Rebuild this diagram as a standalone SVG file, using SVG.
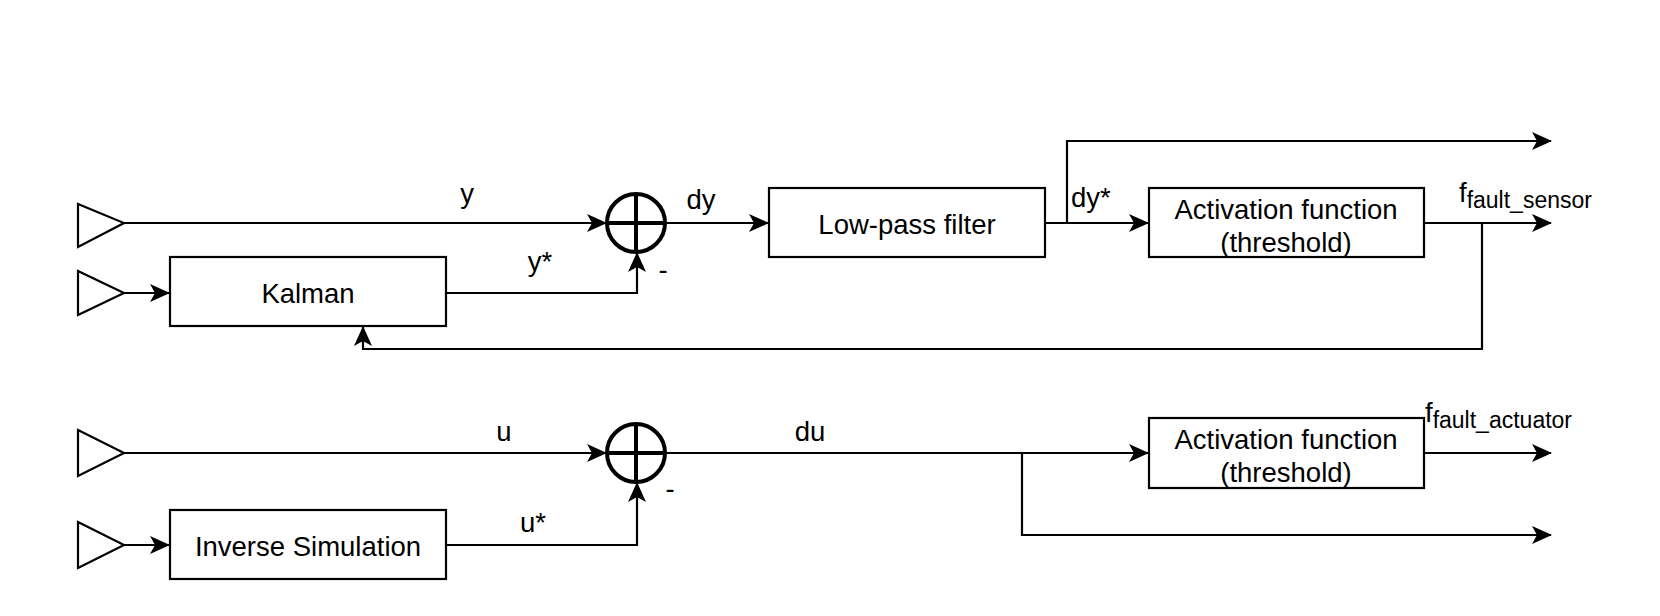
<svg xmlns="http://www.w3.org/2000/svg" width="1660" height="616" viewBox="0 0 1660 616">
<defs>
<marker id="arr" viewBox="0 0 20 18" refX="19" refY="9" markerWidth="20" markerHeight="18" markerUnits="userSpaceOnUse" orient="auto">
<path d="M0,0 L20,9 L0,18 L5,9 z" fill="#000"/>
</marker>
<style>
.box{fill:#fff;stroke:#000;stroke-width:2.2}
.tri{fill:#fff;stroke:#000;stroke-width:2.2}
.sum{fill:#fff;stroke:#000;stroke-width:4}
.ln{fill:none;stroke:#000;stroke-width:2.2}
.t{font-family:"Liberation Sans",Arial,sans-serif;font-size:27.5px;fill:#000;text-anchor:middle}
.l{font-family:"Liberation Sans",Arial,sans-serif;font-size:27.5px;fill:#000}
.sub{font-size:23px}
</style>
</defs>
<rect width="1660" height="616" fill="#fff"/>
<g id="connectors">
<path class="ln" d="M124,223 H606" marker-end="url(#arr)"/>
<path class="ln" d="M667,223 H768" marker-end="url(#arr)"/>
<path class="ln" d="M1045,223 H1148" marker-end="url(#arr)"/>
<path class="ln" d="M1045,223 H1067 V141 H1551" marker-end="url(#arr)"/>
<path class="ln" d="M1424,223 H1551" marker-end="url(#arr)"/>
<path class="ln" d="M1482,223 V349 H363 V327" marker-end="url(#arr)"/>
<path class="ln" d="M124,293 H169" marker-end="url(#arr)"/>
<path class="ln" d="M446,293 H637 V253" marker-end="url(#arr)"/>
<path class="ln" d="M124,453 H606" marker-end="url(#arr)"/>
<path class="ln" d="M667,453 H1148" marker-end="url(#arr)"/>
<path class="ln" d="M1022,453 V535 H1551" marker-end="url(#arr)"/>
<path class="ln" d="M1424,453 H1551" marker-end="url(#arr)"/>
<path class="ln" d="M124,545 H169" marker-end="url(#arr)"/>
<path class="ln" d="M446,545 H637 V483" marker-end="url(#arr)"/>
</g>
<g id="labels">
<text class="t" x="467" y="203">y</text>
<text class="t" x="540" y="271">y*</text>
<text class="t" x="663" y="279">-</text>
<text class="t" x="701" y="209">dy</text>
<text class="l" x="1071" y="207">dy*</text>
<text class="l" x="1459" y="202">f<tspan class="sub" dy="6">fault_sensor</tspan></text>
<text class="t" x="504" y="441">u</text>
<text class="t" x="810" y="441">du</text>
<text class="t" x="533" y="532">u*</text>
<text class="t" x="670" y="498">-</text>
<text class="l" x="1425" y="422">f<tspan class="sub" dy="6">fault_actuator</tspan></text>
</g>
<g id="in1"><polygon class="tri" points="78,204 124,223 78,247"/></g>
<g id="in2"><polygon class="tri" points="78,271 124,293 78,315"/></g>
<g id="in3"><polygon class="tri" points="78,430 124,453 78,476"/></g>
<g id="in4"><polygon class="tri" points="78,522 124,545 78,568"/></g>
<g id="sum1"><circle class="sum" cx="636" cy="223" r="29"/><path class="sum" d="M607,223 H665 M636,194 V252"/></g>
<g id="sum2"><circle class="sum" cx="636" cy="453" r="29"/><path class="sum" d="M607,453 H665 M636,424 V482"/></g>
<g id="kalman"><rect class="box" x="170" y="257" width="276" height="69"/><text class="t" x="308" y="303">Kalman</text></g>
<g id="lowpass"><rect class="box" x="769" y="188" width="276" height="69"/><text class="t" x="907" y="234">Low-pass filter</text></g>
<g id="act1"><rect class="box" x="1149" y="188" width="275" height="69"/><text class="t" x="1286" y="219">Activation function</text><text class="t" x="1286" y="252">(threshold)</text></g>
<g id="act2"><rect class="box" x="1149" y="418" width="275" height="70"/><text class="t" x="1286" y="449">Activation function</text><text class="t" x="1286" y="482">(threshold)</text></g>
<g id="invsim"><rect class="box" x="170" y="510" width="276" height="69"/><text class="t" x="308" y="556">Inverse Simulation</text></g>
</svg>
